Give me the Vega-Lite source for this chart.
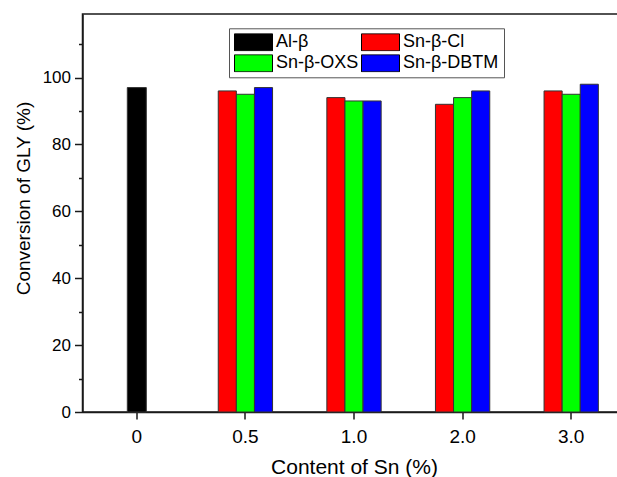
{
  "$schema": "https://vega.github.io/schema/vega-lite/v6.json",
  "width": 543,
  "height": 398,
  "autosize": {"type": "none"},
  "padding": {"left": 82.5, "top": 14, "right": -8.5, "bottom": 65},
  "background": "white",
  "config": {
    "font": "Liberation Sans",
    "view": {"stroke": "#1a1a1a", "strokeWidth": 1.5},
    "axis": {
      "domainColor": "#1a1a1a",
      "domainWidth": 1.5,
      "tickColor": "#1a1a1a",
      "tickWidth": 1.5,
      "labelColor": "black",
      "titleColor": "black",
      "grid": false,
      "labelFont": "Liberation Sans",
      "titleFont": "Liberation Sans",
      "titleFontWeight": "normal"
    }
  },
  "data": {
    "values": [
      {"content": "0", "catalyst": "Al-β", "conversion": 97},
      {"content": "0.5", "catalyst": "Sn-β-Cl", "conversion": 96},
      {"content": "0.5", "catalyst": "Sn-β-OXS", "conversion": 95},
      {"content": "0.5", "catalyst": "Sn-β-DBTM", "conversion": 97},
      {"content": "1.0", "catalyst": "Sn-β-Cl", "conversion": 94},
      {"content": "1.0", "catalyst": "Sn-β-OXS", "conversion": 93},
      {"content": "1.0", "catalyst": "Sn-β-DBTM", "conversion": 93},
      {"content": "2.0", "catalyst": "Sn-β-Cl", "conversion": 92},
      {"content": "2.0", "catalyst": "Sn-β-OXS", "conversion": 94},
      {"content": "2.0", "catalyst": "Sn-β-DBTM", "conversion": 96},
      {"content": "3.0", "catalyst": "Sn-β-Cl", "conversion": 96},
      {"content": "3.0", "catalyst": "Sn-β-OXS", "conversion": 95},
      {"content": "3.0", "catalyst": "Sn-β-DBTM", "conversion": 98}
    ]
  },
  "encoding": {
    "x": {
      "field": "content",
      "type": "nominal",
      "sort": ["0", "0.5", "1.0", "2.0", "3.0"],
      "scale": {"domain": ["0", "0.5", "1.0", "2.0", "3.0"], "paddingInner": 0.5, "paddingOuter": 0.25},
      "axis": {
        "title": "Content of Sn (%)",
        "labelAngle": 0,
        "tickSize": 7,
        "labelPadding": 8,
        "labelFontSize": 19,
        "titleFontSize": 21,
        "titleBaseline": "alphabetic",
        "titleY": 61
      }
    },
    "color": {
      "field": "catalyst",
      "type": "nominal",
      "scale": {
        "domain": ["Al-β", "Sn-β-OXS", "Sn-β-Cl", "Sn-β-DBTM"],
        "range": ["#000000", "#00FF00", "#FF0000", "#0000FF"]
      },
      "legend": {
        "orient": "none",
        "legendX": 146.5,
        "legendY": 14.3,
        "columns": 2,
        "title": null,
        "symbolType": "M-1,-0.45H1V0.45H-1Z",
        "symbolSize": 1444,
        "symbolStrokeColor": "black",
        "symbolStrokeWidth": 1,
        "symbolOpacity": 1,
        "labelFontSize": 18,
        "labelOffset": 3,
        "labelColor": "black",
        "labelFont": "Liberation Sans",
        "columnPadding": 2,
        "rowPadding": 3,
        "clipHeight": 18,
        "padding": 5,
        "strokeColor": "#555555",
        "fillColor": "white"
      }
    }
  },
  "layer": [
    {
      "transform": [{"filter": "datum.catalyst === 'Al-β'"}],
      "mark": {"type": "bar", "size": 19, "stroke": "#333333", "strokeWidth": 1},
      "encoding": {
        "y": {
          "field": "conversion",
          "type": "quantitative",
          "scale": {"domain": [0, 119], "nice": false},
          "axis": {
            "orient": "left",
            "values": [0, 20, 40, 60, 80, 100],
            "tickSize": 8,
            "labelPadding": 4,
            "labelFontSize": 17,
            "title": "Conversion of GLY (%)",
            "titleFontSize": 19,
            "titleAngle": 270,
            "titleBaseline": "middle",
            "titleX": -59,
            "titleY": 184
          }
        }
      }
    },
    {
      "transform": [{"filter": "datum.catalyst !== 'Al-β'"}],
      "mark": {"type": "bar", "stroke": "#333333", "strokeWidth": 1},
      "encoding": {
        "xOffset": {
          "field": "catalyst",
          "type": "nominal",
          "scale": {"domain": ["Sn-β-Cl", "Sn-β-OXS", "Sn-β-DBTM"], "paddingInner": 0, "paddingOuter": 0}
        },
        "y": {
          "field": "conversion",
          "type": "quantitative",
          "scale": {"domain": [0, 119], "nice": false},
          "axis": {
            "orient": "left",
            "values": [10, 30, 50, 70, 90, 110],
            "labels": false,
            "tickSize": 4,
            "domain": false,
            "title": null
          }
        }
      }
    }
  ],
  "resolve": {"axis": {"y": "independent"}}
}
